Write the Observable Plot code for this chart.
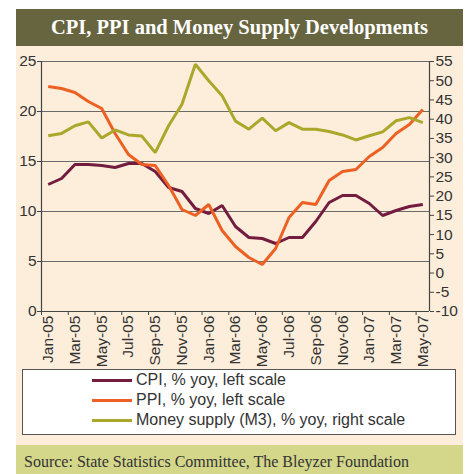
<!DOCTYPE html>
<html>
<head>
<meta charset="utf-8">
<script src="https://cdn.jsdelivr.net/npm/d3@7"></script>
<script src="https://cdn.jsdelivr.net/npm/@observablehq/plot@0.6"></script>
<style>
  html, body { margin: 0; padding: 0; background: #ffffff; }
  #wrap { position: relative; width: 469px; height: 474px; overflow: hidden; }
  #title { position: absolute; left: 16px; top: 9px; width: 447px; height: 37px; background: #676540;
    color: #ffffff; font: bold 20.5px "Liberation Serif", serif; text-align: center; line-height: 37px; }
  #panel { position: absolute; left: 16px; top: 46px; width: 447px; height: 399px; background: #fdeedb; }
  #chart { position: absolute; left: 0; top: 0; }
  #legend { position: absolute; left: 6px; top: 323px; width: 432px; height: 64px; background: #ffffff;
    border: 1px solid #555; font: 16px "Liberation Sans", sans-serif; color: #333; }
  .row { position: absolute; left: 0; height: 20px; line-height: 20px; }
  .row span.sw { position: absolute; left: 69px; top: 9px; width: 40px; height: 3px; }
  .row span.tx { position: absolute; left: 113px; white-space: nowrap; }
  #source { position: absolute; left: 16px; top: 445px; width: 439px; height: 29px; padding-left: 8px;
    background: #d4d68a; color: #333; font: 16px "Liberation Serif", serif; line-height: 33px; white-space: nowrap; }
</style>
</head>
<body>
<div id="wrap">
  <div id="title">CPI, PPI and Money Supply Developments</div>
  <div id="panel">
    <div id="chart"></div>
    <div id="legend"></div>
  </div>
  <div id="source">Source: State Statistics Committee, The Bleyzer Foundation</div>
</div>
<script>
const months = ["Jan-05","Feb-05","Mar-05","Apr-05","May-05","Jun-05","Jul-05","Aug-05","Sep-05","Oct-05","Nov-05","Dec-05",
  "Jan-06","Feb-06","Mar-06","Apr-06","May-06","Jun-06","Jul-06","Aug-06","Sep-06","Oct-06","Nov-06","Dec-06",
  "Jan-07","Feb-07","Mar-07","Apr-07","May-07"];
const cpi = [12.7, 13.3, 14.7, 14.7, 14.6, 14.4, 14.8, 14.8, 14.0, 12.4, 12.0, 10.3, 9.8, 10.6, 8.5, 7.4, 7.3, 6.8, 7.4, 7.4, 9.0, 10.9, 11.6, 11.6, 10.8, 9.6, 10.1, 10.5, 10.7];
const ppi = [22.5, 22.3, 21.9, 21.0, 20.3, 17.8, 15.7, 14.7, 14.6, 12.6, 10.2, 9.6, 10.7, 8.1, 6.5, 5.4, 4.7, 6.3, 9.4, 10.9, 10.7, 13.1, 14.0, 14.2, 15.5, 16.4, 17.8, 18.7, 20.2];
const m3 = [35.7, 36.3, 38.3, 39.3, 35.1, 37.2, 35.9, 35.6, 31.3, 38.3, 43.9, 54.3, 50.0, 46.1, 39.5, 37.4, 40.3, 37.0, 39.1, 37.4, 37.4, 36.8, 35.9, 34.6, 35.7, 36.7, 39.6, 40.4, 39.1];
const leftTicks = [0, 5, 10, 15, 20, 25];
const rightTicks = [-10, -5, 0, 5, 10, 15, 20, 25, 30, 35, 40, 45, 50, 55];
const seriesNames = ["CPI, % yoy, left scale", "PPI, % yoy, left scale", "Money supply (M3), % yoy, right scale"];
const colors = ["#731c3f", "#ec6024", "#aba72b"];

// right scale (-10..55) mapped onto left scale (0..25)
const rMin = -10, rMax = 55, lMin = 0, lMax = 25;
const toLeft = r => lMin + (r - rMin) * (lMax - lMin) / (rMax - rMin);
const toRight = l => rMin + (l - lMin) * (rMax - rMin) / (lMax - lMin);

const rows = [];
months.forEach((m, i) => {
  rows.push({i, v: cpi[i], s: seriesNames[0]});
  rows.push({i, v: ppi[i], s: seriesNames[1]});
  rows.push({i, v: toLeft(m3[i]), s: seriesNames[2]});
});
const idx = months.map((m, i) => i);
const labelIdx = idx.filter(i => i % 2 === 0);
const boundaries = labelIdx.map(i => i - 0.5);

const chart = Plot.plot({
  width: 447, height: 323,
  marginLeft: 25, marginRight: 34, marginTop: 15, marginBottom: 58,
  style: {background: "transparent", fontFamily: "Liberation Sans, sans-serif", fontSize: "15.5px", color: "#333"},
  x: {type: "linear", domain: [-0.5, months.length - 0.5]},
  y: {domain: [lMin, lMax]},
  color: {domain: seriesNames, range: colors},
  marks: [
    Plot.ruleY(leftTicks.filter(d => d > 0), {stroke: "#6a6a6a", strokeWidth: 1.2}),
    Plot.ruleY([0], {stroke: "#444", strokeWidth: 1.2}),
    Plot.ruleX([-0.5, months.length - 0.5], {stroke: "#444", strokeWidth: 1.2}),
    Plot.axisY({ticks: leftTicks, tickSize: 4, tickPadding: 1, label: null, stroke: "#444"}),
    Plot.axisY({anchor: "right", ticks: rightTicks.map(toLeft), tickFormat: d => String(Math.round(toRight(d))),
      tickSize: 4, tickPadding: 2, label: null, stroke: "#444"}),
    Plot.axisX({ticks: boundaries, tickSize: 4, tickFormat: () => "", label: null, stroke: "#444"}),
    Plot.axisX({ticks: labelIdx, tickFormat: i => months[i], tickRotate: -90, tickSize: 0, tickPadding: 4, label: null}),
    Plot.line(rows, {x: "i", y: "v", z: "s", stroke: "s", strokeWidth: 3, strokeLinejoin: "miter", strokeLinecap: "butt"})
  ]
});
document.getElementById("chart").appendChild(chart);

const legend = document.getElementById("legend");
seriesNames.forEach((n, k) => {
  const r = document.createElement("div");
  r.className = "row";
  r.style.top = (0 + k * 20) + "px";
  r.innerHTML = `<span class="sw" style="background:${colors[k]}"></span><span class="tx">${n}</span>`;
  legend.appendChild(r);
});
</script>
</body>
</html>
